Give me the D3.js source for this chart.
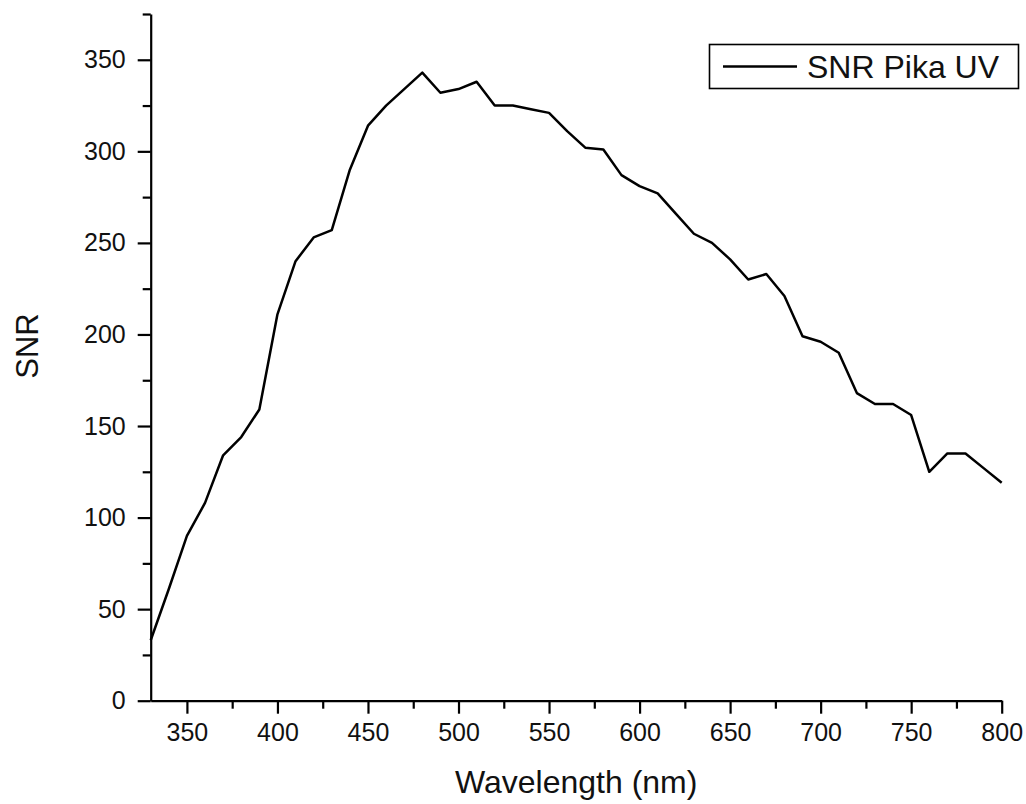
<!DOCTYPE html>
<html>
<head>
<meta charset="utf-8">
<script src="https://cdn.jsdelivr.net/npm/d3@7"></script>
<style>
  html, body { margin: 0; padding: 0; background: #fff; }
  svg { display: block; font-family: "Liberation Sans", Arial, sans-serif; }
</style>
</head>
<body>
<svg id="chart" width="1026" height="804"></svg>
<script>
// Wavelength samples (nm) and measured SNR for the Pika UV sensor
const wavelengths = [330, 340, 350, 360, 370, 380, 390, 400, 410, 420, 430, 440, 450, 460, 470, 480,
  490, 500, 510, 520, 530, 540, 550, 560, 570, 580, 590, 600, 610, 620, 630, 640, 650, 660, 670,
  680, 690, 700, 710, 720, 730, 740, 750, 760, 770, 780, 790, 800];
const snrPikaUV = [33, 61, 90, 108, 134, 144, 159, 211, 240, 253, 257, 290, 314, 325, 334, 343,
  332, 334, 338, 325, 325, 323, 321, 311, 302, 301, 287, 281, 277, 266, 255, 250, 241, 230, 233,
  221, 199, 196, 190, 168, 162, 162, 156, 125, 135, 135, 127, 119];

const xMajorTicks = [350, 400, 450, 500, 550, 600, 650, 700, 750, 800];
const xMinorTicks = [375, 425, 475, 525, 575, 625, 675, 725, 775];
const yMajorTicks = [0, 50, 100, 150, 200, 250, 300, 350];
const yMinorTicks = [25, 75, 125, 175, 225, 275, 325, 375];

const seriesName = "SNR Pika UV";
const xTitle = "Wavelength (nm)";
const yTitle = "SNR";

const svg = d3.select("#chart");
const plotLeft = 150.7, plotRight = 1001.7, plotTop = 14, plotBottom = 700.7;

const x = d3.scaleLinear().domain([330, 800]).range([plotLeft, plotRight]);
const y = d3.scaleLinear().domain([0, 375]).range([plotBottom, plotTop]);

const axisStyle = g => {
  g.selectAll(".domain").attr("stroke", "#000").attr("stroke-width", 2.2);
  g.selectAll(".tick line").attr("stroke", "#000").attr("stroke-width", 2.2);
  g.selectAll(".tick text").attr("fill", "#111").attr("font-size", 25)
    .attr("font-family", "'Liberation Sans', Arial, sans-serif");
};

// minor ticks first, then major ticks with labels and the axis line
svg.append("g").attr("transform", `translate(0,${plotBottom})`)
  .call(d3.axisBottom(x).tickValues(xMinorTicks).tickSize(8).tickFormat(""))
  .call(g => g.select(".domain").remove())
  .call(axisStyle);
svg.append("g").attr("transform", `translate(0,${plotBottom})`)
  .call(d3.axisBottom(x).tickValues(xMajorTicks).tickSize(13).tickSizeOuter(0).tickPadding(10).tickFormat(d3.format("d")))
  .call(axisStyle)
  .call(g => g.selectAll(".tick text").attr("dy", "0.71em"));

svg.append("g").attr("transform", `translate(${plotLeft},0)`)
  .call(d3.axisLeft(y).tickValues(yMinorTicks).tickSize(8).tickFormat(""))
  .call(g => g.select(".domain").remove())
  .call(axisStyle);
svg.append("g").attr("transform", `translate(${plotLeft},0)`)
  .call(d3.axisLeft(y).tickValues(yMajorTicks).tickSize(13).tickSizeOuter(0).tickPadding(12).tickFormat(d3.format("d")))
  .call(axisStyle);

// data line
const line = d3.line().x((d, i) => x(wavelengths[i])).y(d => y(d));
svg.append("path")
  .datum(snrPikaUV)
  .attr("d", line)
  .attr("fill", "none")
  .attr("stroke", "#000")
  .attr("stroke-width", 2.5)
  .attr("stroke-linejoin", "round");

// axis titles
svg.append("text")
  .attr("x", (plotLeft + plotRight) / 2)
  .attr("y", 793)
  .attr("text-anchor", "middle")
  .attr("font-size", 32)
  .attr("fill", "#111")
  .text(xTitle);

svg.append("text")
  .attr("transform", "translate(38,346) rotate(-90)")
  .attr("text-anchor", "middle")
  .attr("font-size", 31)
  .attr("fill", "#111")
  .text(yTitle);

// legend
const legend = svg.append("g");
legend.append("rect")
  .attr("x", 709.5).attr("y", 44.5)
  .attr("width", 309).attr("height", 44)
  .attr("fill", "#fff").attr("stroke", "#000").attr("stroke-width", 1.6);
legend.append("line")
  .attr("x1", 723).attr("x2", 797).attr("y1", 66.5).attr("y2", 66.5)
  .attr("stroke", "#000").attr("stroke-width", 2.3);
legend.append("text")
  .attr("x", 807).attr("y", 77.5)
  .attr("font-size", 32)
  .attr("fill", "#111")
  .text(seriesName);
</script>
</body>
</html>
